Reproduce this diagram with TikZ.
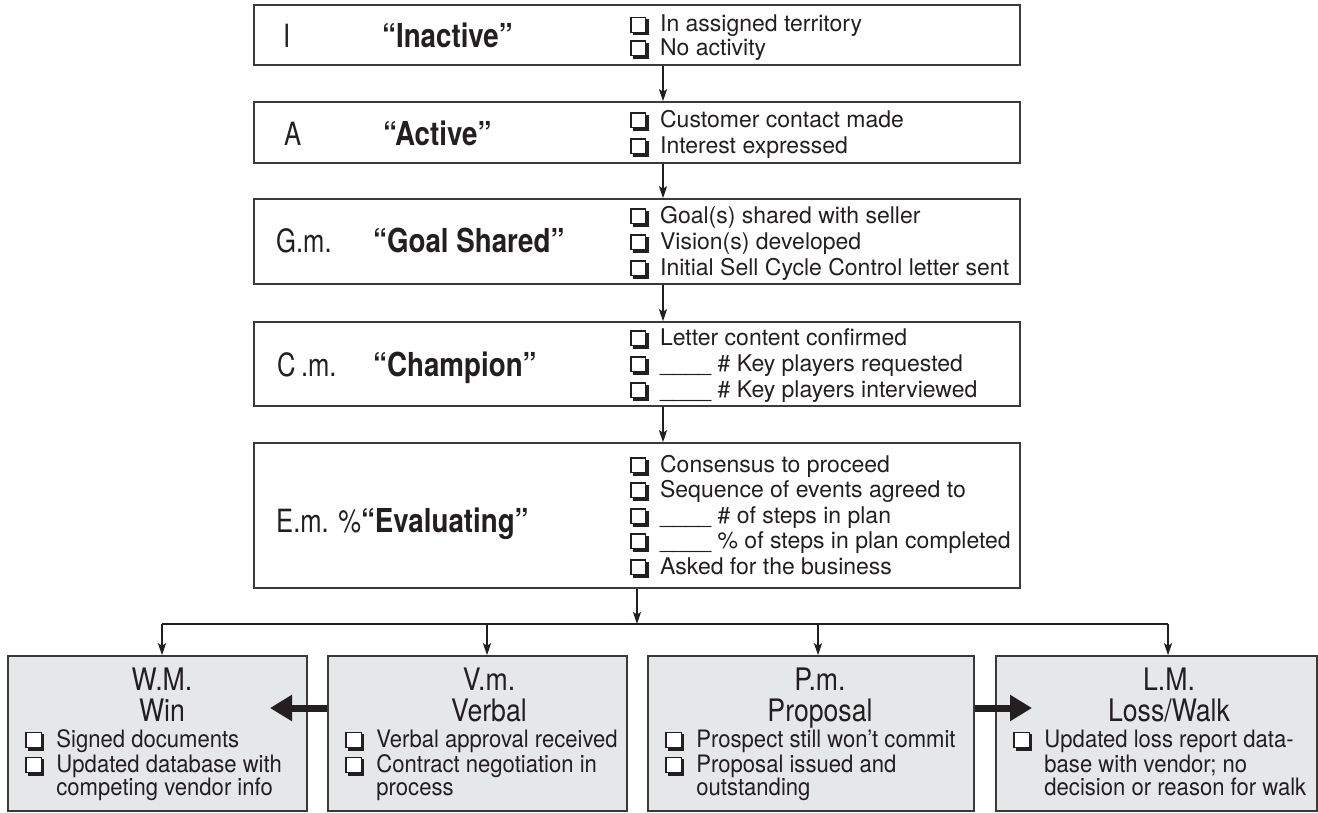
\documentclass[tikz,border=0pt]{standalone}
\usepackage{fontspec}
\setmainfont{TeX Gyre Heros}
\newfontfamily\codefont{TeX Gyre Heros}[FakeStretch=0.8]
\newfontfamily\headfont{TeX Gyre Heros}[FakeStretch=0.84]
\newfontfamily\condfont{TeX Gyre Heros}[FakeStretch=0.86]
\newfontfamily\listfont{TeX Gyre Heros}[FakeStretch=0.92]
\usetikzlibrary{arrows.meta}

\definecolor{ink}{HTML}{231F20}
\definecolor{frame}{HTML}{3A3A3A}
\definecolor{panel}{HTML}{E6E7E8}

% shadowed tick box followed by a fixed gap
\newcommand\chkbox{{\setlength\fboxsep{0pt}\setlength\fboxrule{0.06em}%
  \rlap{\kern0.1em\raisebox{-0.16em}{\color{ink}\rule{0.7em}{0.7em}}}%
  \fcolorbox{ink}{white}{\rule{0pt}{0.58em}\kern0.58em}}}
\newcommand\chk{\makebox[1.3em][l]{\chkbox}}
\newcommand\gap{\hspace*{1.3em}}
\newcommand\blank{\_\_\_\_}

\begin{document}
\begin{tikzpicture}[x=1pt,y=-1pt,
  stage/.style={draw=frame, line width=1.6pt, minimum width=766pt, inner sep=0pt},
  outcome/.style={draw=frame, fill=panel, line width=1.6pt, minimum height=155pt, inner sep=0pt},
  arr/.style={draw=ink, line width=1.2pt, -{Stealth[length=12pt,width=8pt,inset=2.5pt]}},
  bus/.style={draw=ink, line width=1.2pt},
  fat/.style={draw=ink, line width=7pt, -{Triangle[length=22pt,width=25pt]}},
  code/.style={anchor=base west, inner sep=0pt, text=ink, font=\codefont\fontsize{32}{34}\selectfont},
  title/.style={anchor=base west, inner sep=0pt, text=ink, font=\headfont\bfseries\fontsize{33}{35}\selectfont},
  item/.style={anchor=base west, inner sep=0pt, text=ink, font=\fontsize{23}{25}\selectfont},
  head/.style={anchor=base, inner sep=0pt, text=ink, font=\condfont\fontsize{31}{33}\selectfont},
  entry/.style={anchor=base west, inner sep=0pt, text=ink, font=\listfont\fontsize{24}{26}\selectfont}]

\useasboundingbox (0,0) rectangle (1318,812);

% ---- stage boxes ----
\node[stage, minimum height=60pt]  (s1) at (637,35) {};
\node[stage, minimum height=61pt]  (s2) at (637,132.5) {};
\node[stage, minimum height=85pt]  (s3) at (637,241.5) {};
\node[stage, minimum height=84pt]  (s4) at (637,364) {};
\node[stage, minimum height=145pt] (s5) at (637,515.5) {};

\node[code]  (s1code) at (283,47) {I};
\node[title] (s1name) at (382,47) {“Inactive”};
\node[item]  (s1a) at (630,31.7) {\chk In assigned territory};
\node[item]  (s1b) at (630,55)   {\chk No activity};

\node[code]  (s2code) at (284,145) {A};
\node[title] (s2name) at (383,145) {“Active”};
\node[item]  (s2a) at (630,127) {\chk Customer contact made};
\node[item]  (s2b) at (630,153) {\chk Interest expressed};

\node[code]  (s3code) at (276,252) {G.m.};
\node[title] (s3name) at (373,252) {“Goal Shared”};
\node[item]  (s3a) at (630,223) {\chk Goal(s) shared with seller};
\node[item]  (s3b) at (630,249) {\chk Vision(s) developed};
\node[item]  (s3c) at (630,275) {\chk Initial Sell Cycle Control letter sent};

\node[code]  (s4code) at (277,376) {C\,.m.};
\node[title] (s4name) at (373,376) {“Champion”};
\node[item]  (s4a) at (630,345) {\chk Letter content confirmed};
\node[item]  (s4b) at (630,371) {\chk\blank\ \# Key players requested};
\node[item]  (s4c) at (630,397) {\chk\blank\ \# Key players interviewed};

\node[code]  (s5code) at (276,532) {E.m. \%{\headfont\bfseries\fontsize{33}{35}\selectfont “Evaluating”}};
\node[item]  (s5a) at (630,472) {\chk Consensus to proceed};
\node[item]  (s5b) at (630,497) {\chk Sequence of events agreed to};
\node[item]  (s5c) at (630,523) {\chk\blank\ \# of steps in plan};
\node[item]  (s5d) at (630,548) {\chk\blank\ \% of steps in plan completed};
\node[item]  (s5e) at (630,574) {\chk Asked for the business};

% ---- outcome boxes ----
\node[outcome, minimum width=299pt] (win)  at (157.5,733.5) {};
\node[outcome, minimum width=299pt] (verb) at (477.5,733.5) {};
\node[outcome, minimum width=326pt] (prop) at (811,733.5) {};
\node[outcome, minimum width=321pt] (loss) at (1156.5,733.5) {};

\node[head]  (winA) at (162,690) {W.M.};
\node[head]  (winB) at (162,721) {Win};
\node[entry] (winC) at (25,747) {\chk Signed documents};
\node[entry] (winD) at (25,772) {\chk Updated database with};
\node[entry] (winE) at (25,795) {\gap competing vendor info};

\node[head]  (verbA) at (489,690) {V.m.};
\node[head]  (verbB) at (489,721) {Verbal};
\node[entry] (verbC) at (345,747) {\chk Verbal approval received};
\node[entry] (verbD) at (345,772) {\chk Contract negotiation in};
\node[entry] (verbE) at (345,795) {\gap process};

\node[head]  (propA) at (820,690) {P.m.};
\node[head]  (propB) at (820,721) {Proposal};
\node[entry] (propC) at (665,747) {\chk Prospect still won’t commit};
\node[entry] (propD) at (665,772) {\chk Proposal issued and};
\node[entry] (propE) at (665,795) {\gap outstanding};

\node[head]  (lossA) at (1169,690) {L.M.};
\node[head]  (lossB) at (1169,721) {Loss/Walk};
\node[entry] (lossC) at (1013,747) {\chk Updated loss report data-};
\node[entry] (lossD) at (1013,772) {\gap base with vendor; no};
\node[entry] (lossE) at (1013,795) {\gap decision or reason for walk};

% ---- connectors ----
\coordinate (spine) at (663,0);
\draw[arr] (s1.south -| spine) -- (s2.north -| spine);
\draw[arr] (s2.south -| spine) -- (s3.north -| spine);
\draw[arr] (s3.south -| spine) -- (s4.north -| spine);
\draw[arr] (s4.south -| spine) -- (s5.north -| spine);

\coordinate (busW) at (162,624);
\coordinate (busV) at (487,624);
\coordinate (busP) at (818,624);
\coordinate (busL) at (1168,624);
\draw[arr] (s5.south) -- (s5.south |- busW);
\draw[bus] (busW) -- (busL);
\draw[arr] (busW) -- (busW |- win.north);
\draw[arr] (busV) -- (busV |- verb.north);
\draw[arr] (busP) -- (busP |- prop.north);
\draw[arr] (busL) -- (busL |- loss.north);

\coordinate (winTip)  at (270,708);
\coordinate (lossTip) at (1032,708);
\draw[fat] (verb.west |- winTip) -- (winTip);
\draw[fat] (prop.east |- lossTip) -- (lossTip);
\end{tikzpicture}
\end{document}
